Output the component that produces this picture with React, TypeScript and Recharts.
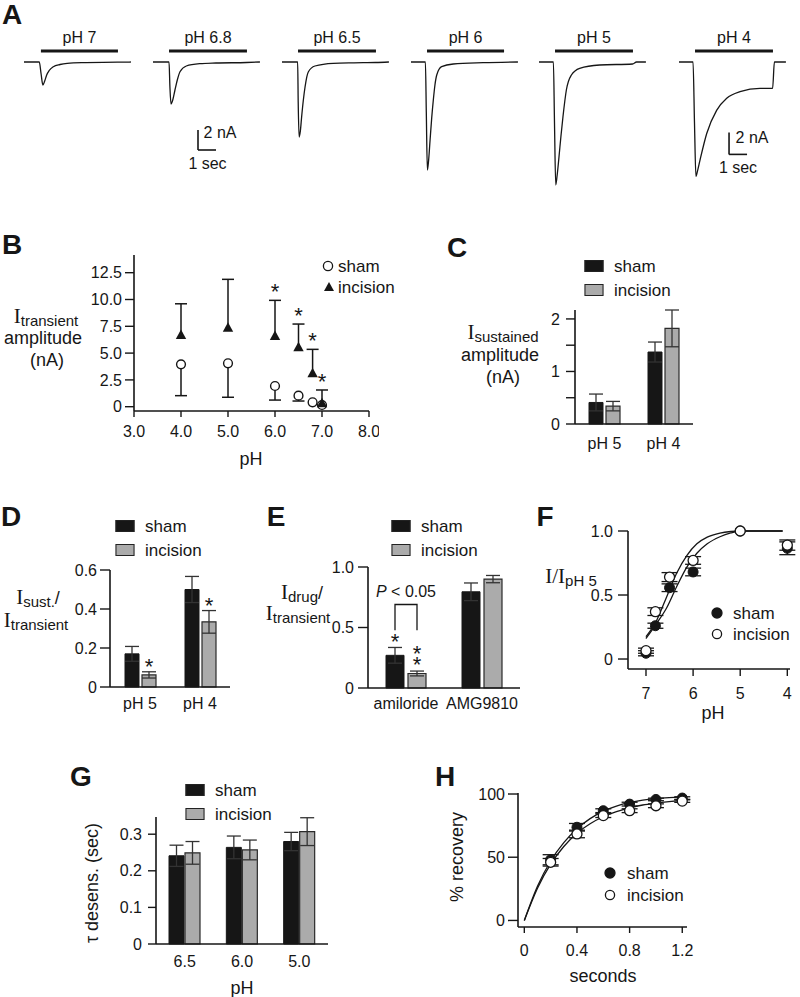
import React from 'react';
import {
  LineChart, Line, XAxis, YAxis, ReferenceLine, ScatterChart, Scatter, ErrorBar,
  BarChart, Bar, LabelList, ComposedChart,
} from 'recharts';

const FONT = '"Liberation Sans", Arial, Helvetica, sans-serif';
const SERIF = '"Liberation Serif", "Times New Roman", serif';
const INK = '#161616';
const GREY = '#ababab';
const TICK = { fontSize: 16, fill: INK, fontFamily: FONT };

/* ---------------- A: current traces (t in s, I in nA) ---------------- */
const traceLabels = ['pH 7', 'pH 6.8', 'pH 6.5', 'pH 6', 'pH 5', 'pH 4'];
const tracePH7 = [[0, 0], [0.85, 0], [0.95, -1.2], [1.05, -2.3], [1.15, -1.9], [1.26, -1.3], [1.4, -0.85], [1.63, -0.47], [2.0, -0.25], [2.4, -0.13], [3.2, -0.06], [5.2, -0.02], [5.94, 0]];
const tracePH68 = [[0, 0], [0.89, 0], [0.94, -2.5], [1.0, -4.2], [1.08, -3.9], [1.22, -2.8], [1.35, -1.8], [1.5, -0.97], [1.85, -0.4], [2.6, -0.17], [3.5, -0.1], [5.2, -0.05], [5.94, 0]];
const tracePH65 = [[0, 0], [0.87, 0], [0.9, -4], [0.95, -7.5], [1.02, -6.9], [1.09, -5.5], [1.18, -3.9], [1.28, -2.5], [1.46, -1.0], [1.83, -0.4], [2.85, -0.13], [4, -0.08], [5.2, -0.05], [5.94, 0]];
const tracePH6 = [[0, 0], [0.8, 0], [0.85, -5], [0.91, -10.8], [0.98, -9.8], [1.06, -7.8], [1.15, -5.6], [1.24, -3.8], [1.33, -2.3], [1.43, -1.3], [1.7, -0.47], [2.35, -0.2], [4.0, -0.07], [5.94, 0]];
const tracePH5 = [[0, 0], [0.8, 0], [0.86, -6], [0.93, -12.3], [1.01, -11.3], [1.11, -9.5], [1.22, -7.4], [1.33, -5.5], [1.52, -2.8], [1.8, -1.3], [2.26, -0.63], [3.37, -0.3], [5.2, -0.2], [5.42, 0], [5.94, 0]];
const tracePH4 = [[0, 0], [0.78, 0], [0.86, -5.5], [0.94, -10.4], [1.03, -9.9], [1.17, -8.9], [1.54, -6.5], [2.09, -4.4], [2.65, -3.3], [3.39, -2.7], [4.5, -2.4], [5.2, -2.4], [5.3, 0], [5.94, 0]];
const traceOnset = [0.94, 0.89, 0.89, 0.89, 0.89, 0.89];
const traceOffset = [5.22, 5.22, 5.22, 5.17, 5.22, 5.22];
const traceBarLevel = [1.1, 1.1, 1.1, 1.1, 1.1, 1.0];
const scaleBarNA = 2;
const scaleBarSec = 1;

/* ---------------- B ---------------- */
const bPH = [4, 5, 6, 6.5, 6.8, 7];
const bSham = [3.95, 4.05, 1.93, 1.03, 0.41, 0.16];
const bShamErr = [2.92, 3.17, 1.31, 0.5, 0, 0];
const bIncision = [6.69, 7.37, 6.6, 5.54, 3.11, 0.32];
const bIncisionErr = [2.91, 4.51, 3.32, 2.17, 2.24, 1.24];
const bSig = [false, false, true, true, true, true];
const bXTicks = [3, 4, 5, 6, 7, 8];
const bYTicks = [0, 2.5, 5, 7.5, 10, 12.5];

/* ---------------- C ---------------- */
const cCats = ['pH 5', 'pH 4'];
const cSham = [0.41, 1.37];
const cShamErr = [0.16, 0.19];
const cInc = [0.34, 1.82];
const cIncErr = [0.09, 0.35];
const cYTicks = [0, 0.5, 1, 1.5, 2];

/* ---------------- D ---------------- */
const dCats = ['pH 5', 'pH 4'];
const dSham = [0.17, 0.5];
const dShamErr = [0.038, 0.067];
const dInc = [0.062, 0.334];
const dIncErr = [0.016, 0.058];
const dSig = [true, true];
const dYTicks = [0, 0.2, 0.4, 0.6];

/* ---------------- E ---------------- */
const eCats = ['amiloride', 'AMG9810'];
const eSham = [0.27, 0.795];
const eShamErr = [0.065, 0.073];
const eInc = [0.12, 0.9];
const eIncErr = [0.02, 0.03];
const eBracket = [0.69, 0.478]; // bracket top, leg bottom
const eYTicks = [0, 0.5, 1];

/* ---------------- F ---------------- */
const fPH = [7, 6.8, 6.5, 6, 5, 4];
const fSham = [0.045, 0.26, 0.557, 0.68, 1.0, 0.865];
const fShamErr = [0.02, 0.02, 0.03, 0.03, 0, 0.05];
const fInc = [0.065, 0.37, 0.64, 0.77, 1.0, 0.89];
const fIncErr = [0.02, 0.03, 0.035, 0.03, 0, 0.04];
const fFitPH = [7.0, 6.77, 6.56, 6.35, 6.13, 5.92, 5.7, 5.43, 5.2, 5.0, 4.6, 4.1];
const fFitSham = [0.16, 0.28, 0.4, 0.565, 0.72, 0.826, 0.9, 0.955, 0.985, 1.0, 1.0, 1.0];
const fFitInc = [0.174, 0.305, 0.487, 0.67, 0.81, 0.9, 0.952, 0.984, 0.996, 1.0, 1.0, 1.0];
const fXTicks = [7, 6, 5, 4];
const fYTicks = [0, 0.5, 1];

/* ---------------- G ---------------- */
const gCats = ['6.5', '6.0', '5.0'];
const gSham = [0.241, 0.264, 0.28];
const gShamErr = [0.029, 0.031, 0.025];
const gInc = [0.249, 0.257, 0.307];
const gIncErr = [0.031, 0.027, 0.038];
const gYTicks = [0, 0.1, 0.2, 0.3];

/* ---------------- H ---------------- */
const hTime = [0.2, 0.4, 0.6, 0.8, 1.0, 1.2];
const hSham = [48, 73.7, 86.8, 92, 95.7, 96.8];
const hShamErr = [4, 3, 1.5, 1.5, 1, 1];
const hInc = [46, 68.4, 82.9, 86.8, 90.7, 94.4];
const hIncErr = [3, 3, 1.5, 1.5, 1.5, 1];
const hFitTime = [0, 0.1, 0.2, 0.3, 0.4, 0.5, 0.6, 0.7, 0.8, 0.9, 1.0, 1.1, 1.2];
const hFitSham = [0, 27, 47, 61.5, 72.5, 80.5, 86.5, 90.5, 93.3, 95.2, 96.4, 97.2, 97.8];
const hFitInc = [0, 25.5, 44.5, 58.5, 69, 76.5, 82, 86, 89, 91.3, 92.8, 94, 95];
const hXTicks = [0, 0.4, 0.8, 1.2];
const hYTicks = [0, 50, 100];

/* ---------------- helpers ---------------- */
type Rect = { x0: number; y0: number; x1: number; y1: number };
function frame(r: Rect, yW: number, xH: number, right = 10, top = 14) {
  return {
    style: { position: 'absolute' as const, left: r.x0 - yW, top: r.y0 - top },
    width: r.x1 - r.x0 + yW + right,
    height: r.y1 - r.y0 + xH + top,
    margin: { top, right, bottom: 0, left: 0 },
  };
}
const fmt1 = (v: number) => (v === 0 ? '0' : v.toFixed(1));
const axisLine = { strokeWidth: 1.6 };
const tickLine = { strokeWidth: 1.4 };

function T({ x, y, size = 18, children, rotate, bold, style }: any) {
  return (
    <div
      style={{
        position: 'absolute', left: x, top: y,
        transform: `translate(-50%,-50%)${rotate ? ` rotate(${rotate}deg)` : ''}`,
        fontSize: size, lineHeight: 1, whiteSpace: 'nowrap', fontFamily: FONT, color: INK,
        fontWeight: bold ? 700 : 400, ...style,
      }}
    >
      {children}
    </div>
  );
}
function ISub({ pre = 'I', sub, post = '' }: any) {
  return (
    <span>
      <span style={{ fontFamily: SERIF, fontSize: 21 }}>{pre}</span>
      <span style={{ fontSize: 15, position: 'relative', top: 3 }}>{sub}</span>
      {post}
    </span>
  );
}
const Swatch = ({ fill }: any) => (
  <div style={{ width: 19, height: 12, background: fill, border: '1px solid #222', boxSizing: 'border-box' }} />
);
const Dot = ({ filled }: any) => (
  <svg width={12} height={12} style={{ display: 'block' }}>
    <circle cx={6} cy={6} r={filled ? 5 : 4.6} fill={filled ? INK : '#fff'} stroke={INK} strokeWidth={1.3} />
  </svg>
);
const Tri = () => (
  <svg width={12} height={12} style={{ display: 'block' }}>
    <polygon points="6,1 11,10 1,10" fill={INK} />
  </svg>
);
function LegendRow({ mx, y, tx, marker, label }: any) {
  return (
    <>
      <div style={{ position: 'absolute', left: mx, top: y, transform: 'translate(-50%,-50%)' }}>{marker}</div>
      <div style={{ position: 'absolute', left: tx, top: y, transform: 'translateY(-50%)', fontSize: 17, lineHeight: 1, whiteSpace: 'nowrap', fontFamily: FONT, color: INK }}>
        {label}
      </div>
    </>
  );
}
const Star = ({ x, y }: { x: number; y: number }) => (
  <text x={x} y={y + 12} textAnchor="middle" fontSize={22} fontFamily={FONT} fill={INK}>*</text>
);

/* scatter shapes */
const OpenCircle = (p: any) => <circle cx={p.cx} cy={p.cy} r={4.4} fill="#fff" stroke={INK} strokeWidth={1.4} />;
const OpenCircleL = (p: any) => <circle cx={p.cx} cy={p.cy} r={5} fill="#fff" stroke={INK} strokeWidth={1.3} />;
const FilledCircle = (p: any) => <circle cx={p.cx} cy={p.cy} r={5} fill={INK} stroke={INK} strokeWidth={1} />;
const Triangle = (p: any) => (
  <polygon points={`${p.cx},${p.cy - 5.5} ${p.cx + 5.2},${p.cy + 4} ${p.cx - 5.2},${p.cy + 4}`} fill={INK} />
);
const Cap = (p: any) => <line x1={p.cx - 6} x2={p.cx + 6} y1={p.cy} y2={p.cy} stroke={INK} strokeWidth={1.5} />;
const StarShape = (p: any) => <Star x={p.cx} y={p.cy - 13} />;

/* ---------------- Panel A ---------------- */
const traceLeft = [24, 153, 282, 411, 539, 679];
const traceData = [tracePH7, tracePH68, tracePH65, tracePH6, tracePH5, tracePH4];
const traceDomain: [number, number][] = [[-13, 4.2], [-13, 4.2], [-13, 4.2], [-13, 4.2], [-13, 4.2], [-11.82, 3.82]];
const traceScaleAnchor: (number[] | null)[] = [null, [2.5, -6.8], null, null, null, [2.78, -6.4]];

function Trace({ k }: { k: number }) {
  const data = traceData[k].map(([t, i]) => ({ t, i }));
  const sc = traceScaleAnchor[k];
  return (
    <div style={{ position: 'absolute', left: traceLeft[k], top: 20 }}>
      <LineChart width={108} height={172} data={data} margin={{ top: 0, right: 0, bottom: 0, left: 0 }}>
        <XAxis dataKey="t" type="number" domain={[0, 6]} hide allowDataOverflow />
        <YAxis type="number" domain={traceDomain[k]} hide allowDataOverflow />
        <ReferenceLine
          segment={[{ x: traceOnset[k], y: traceBarLevel[k] }, { x: traceOffset[k], y: traceBarLevel[k] }]}
          stroke={INK} strokeWidth={3}
          label={{ value: traceLabels[k], position: 'top', offset: 8, fontSize: 16, fill: INK, fontFamily: FONT }}
        />
        {sc ? (
          <ReferenceLine segment={[{ x: sc[0], y: sc[1] }, { x: sc[0], y: sc[1] - scaleBarNA }]} stroke={INK} strokeWidth={1.6} />
        ) : null}
        {sc ? (
          <ReferenceLine segment={[{ x: sc[0], y: sc[1] - scaleBarNA }, { x: sc[0] + scaleBarSec, y: sc[1] - scaleBarNA }]} stroke={INK} strokeWidth={1.6} />
        ) : null}
        <Line dataKey="i" type="monotone" dot={false} stroke={INK} strokeWidth={1.3} isAnimationActive={false} />
      </LineChart>
    </div>
  );
}

/* ---------------- Panel B ---------------- */
function PanelB() {
  const f = frame({ x0: 134, y0: 255, x1: 369, y1: 411 }, 60, 40);
  const sham = bPH.map((x, i) => ({ x, y: bSham[i], e: [bShamErr[i], 0] }));
  const inc = bPH.map((x, i) => ({ x, y: bIncision[i], e: [0, bIncisionErr[i]] }));
  const shamCaps = bPH.map((x, i) => ({ x, y: bSham[i] - bShamErr[i], has: bShamErr[i] > 0 })).filter((d) => d.has);
  const incCapsAll = bPH.map((x, i) => ({ x, y: bIncision[i] + bIncisionErr[i], sig: bSig[i] }));
  const stars = incCapsAll.filter((d) => d.sig);
  return (
    <div style={f.style}>
      <ScatterChart width={f.width} height={f.height} margin={f.margin}>
        <XAxis dataKey="x" type="number" domain={[3, 8]} ticks={bXTicks} interval={0} tickFormatter={(v: number) => v.toFixed(1)}
          tick={TICK} tickSize={6} tickMargin={9} stroke={INK} axisLine={axisLine} tickLine={tickLine} height={40} />
        <YAxis dataKey="y" type="number" domain={[-0.4, 14.15]} ticks={bYTicks} interval={0} tickFormatter={fmt1}
          tick={TICK} tickSize={9} tickMargin={3} stroke={INK} axisLine={axisLine} tickLine={tickLine} width={60} />
        <Scatter data={sham} dataKey="y" shape={OpenCircle} isAnimationActive={false}>
          <ErrorBar dataKey="e" direction="y" width={0} stroke={INK} strokeWidth={1.5} isAnimationActive={false} />
        </Scatter>
        <Scatter data={shamCaps} dataKey="y" shape={Cap} isAnimationActive={false} />
        <Scatter data={inc} dataKey="y" shape={Triangle} isAnimationActive={false}>
          <ErrorBar dataKey="e" direction="y" width={0} stroke={INK} strokeWidth={1.5} isAnimationActive={false} />
        </Scatter>
        <Scatter data={incCapsAll} dataKey="y" shape={Cap} isAnimationActive={false} />
        <Scatter data={stars} dataKey="y" shape={StarShape} isAnimationActive={false} />
      </ScatterChart>
    </div>
  );
}

/* ---------------- Bar panels ---------------- */
function BarPanel({ rect, rows, yDomain, yTicks, yFmt, yTickSize, yTickMargin, xTickMargin, barSize, barGap, shamMarks, incMarks }: any) {
  const f = frame(rect, 50, 36, 8, 14);
  return (
    <div style={f.style}>
      <BarChart width={f.width} height={f.height} margin={f.margin} data={rows} barSize={barSize} barGap={barGap}>
        <XAxis dataKey="cat" type="category" interval={0} tickLine={false} tickSize={0} tickMargin={xTickMargin}
          tick={TICK} stroke={INK} axisLine={axisLine} height={36} />
        <YAxis type="number" domain={yDomain} ticks={yTicks} interval={0} tickFormatter={yFmt} tick={TICK}
          tickSize={yTickSize} tickMargin={yTickMargin} stroke={INK} axisLine={axisLine} tickLine={tickLine} width={50} />
        <Bar dataKey="sham" fill={INK} stroke={INK} strokeWidth={1} isAnimationActive={false}>
          <ErrorBar dataKey="shamErr" direction="y" width={7} stroke="#333" strokeWidth={1.3} isAnimationActive={false} />
          {shamMarks ? <LabelList dataKey="k" content={shamMarks} /> : null}
        </Bar>
        <Bar dataKey="inc" fill={GREY} stroke="#2a2a2a" strokeWidth={1.2} isAnimationActive={false}>
          <ErrorBar dataKey="incErr" direction="y" width={7} stroke="#333" strokeWidth={1.3} isAnimationActive={false} />
          {incMarks ? <LabelList dataKey="k" content={incMarks} /> : null}
        </Bar>
      </BarChart>
    </div>
  );
}
const mkRows = (cats: string[], s: number[], se: number[], inc: number[], ie: number[]) =>
  cats.map((cat, k) => ({ cat, k, sham: s[k], shamErr: se[k], inc: inc[k], incErr: ie[k] }));
function geom(p: any, value: number) {
  const vb = p.viewBox ?? p;
  const h = Math.abs(vb.height);
  const top = Math.min(vb.y, vb.y + vb.height);
  return { cx: vb.x + vb.width / 2, top, base: top + h, px: h / value };
}

const dIncMarks = (p: any) => {
  const i = Number(p.value);
  if (!dSig[i]) return null;
  const g = geom(p, dInc[i]);
  return <Star x={g.cx} y={g.top - dIncErr[i] * g.px - 10} />;
};
const E_BAR = 18;
const E_GAP = 4;
const eShamMarks = (p: any) => {
  const i = Number(p.value);
  if (i !== 0) return null;
  const g = geom(p, eSham[i]);
  return <Star x={g.cx} y={g.top - eShamErr[i] * g.px - 10} />;
};
const eIncMarks = (p: any) => {
  const i = Number(p.value);
  if (i !== 0) return null;
  const g = geom(p, eInc[i]);
  const errTop = g.top - eIncErr[i] * g.px;
  const left = g.cx - (E_BAR + E_GAP);
  const topY = g.base - eBracket[0] * g.px;
  const legY = g.base - eBracket[1] * g.px;
  return (
    <g>
      <Star x={g.cx} y={errTop - 11} />
      <Star x={g.cx} y={errTop - 22} />
      <polyline points={`${left},${legY} ${left},${topY} ${g.cx},${topY} ${g.cx},${legY}`} fill="none" stroke={INK} strokeWidth={1.3} />
      <text x={(left + g.cx) / 2} y={topY - 8} textAnchor="middle" fontSize={16} fontFamily={FONT} fill={INK}>
        <tspan fontStyle="italic">P</tspan> &lt; 0.05
      </text>
    </g>
  );
};

/* ---------------- Panel F ---------------- */
function PanelF() {
  const f = frame({ x0: 628, y0: 531, x1: 790, y1: 669 }, 50, 40, 8, 14);
  const sham = fPH.map((x, i) => ({ x, y: fSham[i], e: fShamErr[i] }));
  const inc = fPH.map((x, i) => ({ x, y: fInc[i], e: fIncErr[i] }));
  const fitS = fFitPH.map((x, i) => ({ x, y: fFitSham[i] }));
  const fitI = fFitPH.map((x, i) => ({ x, y: fFitInc[i] }));
  return (
    <div style={f.style}>
      <ComposedChart width={f.width} height={f.height} margin={f.margin}>
        <XAxis dataKey="x" type="number" domain={[3.943, 7.382]} reversed ticks={fXTicks} interval={0} tick={TICK}
          tickSize={7} tickMargin={12} stroke={INK} axisLine={axisLine} tickLine={tickLine} height={40} />
        <YAxis dataKey="y" type="number" domain={[-0.078, 1]} ticks={fYTicks} interval={0} tickFormatter={fmt1} tick={TICK}
          tickSize={10} tickMargin={5} stroke={INK} axisLine={axisLine} tickLine={tickLine} width={50} />
        <Line data={fitS} dataKey="y" type="monotone" dot={false} stroke={INK} strokeWidth={1.3} isAnimationActive={false} />
        <Line data={fitI} dataKey="y" type="monotone" dot={false} stroke={INK} strokeWidth={1.3} isAnimationActive={false} />
        <Scatter data={sham} dataKey="y" shape={FilledCircle} isAnimationActive={false}>
          <ErrorBar dataKey="e" direction="y" width={8} stroke={INK} strokeWidth={1.3} isAnimationActive={false} />
        </Scatter>
        <Scatter data={inc} dataKey="y" shape={OpenCircleL} isAnimationActive={false}>
          <ErrorBar dataKey="e" direction="y" width={8} stroke={INK} strokeWidth={1.3} isAnimationActive={false} />
        </Scatter>
      </ComposedChart>
    </div>
  );
}

/* ---------------- Panel H ---------------- */
function PanelH() {
  const f = frame({ x0: 518, y0: 793, x1: 687, y1: 927 }, 60, 40, 10, 14);
  const sham = hTime.map((x, i) => ({ x, y: hSham[i], e: hShamErr[i] }));
  const inc = hTime.map((x, i) => ({ x, y: hInc[i], e: hIncErr[i] }));
  const fitS = hFitTime.map((x, i) => ({ x, y: hFitSham[i] }));
  const fitI = hFitTime.map((x, i) => ({ x, y: hFitInc[i] }));
  return (
    <div style={f.style}>
      <ComposedChart width={f.width} height={f.height} margin={f.margin}>
        <XAxis dataKey="x" type="number" domain={[-0.048, 1.236]} ticks={hXTicks} interval={0} tickFormatter={fmt1} tick={TICK}
          tickSize={6} tickMargin={12} stroke={INK} axisLine={axisLine} tickLine={tickLine} height={40} />
        <YAxis dataKey="y" type="number" domain={[-5.2, 100.8]} ticks={hYTicks} interval={0} tick={TICK}
          tickSize={10} tickMargin={3} stroke={INK} axisLine={axisLine} tickLine={tickLine} width={60} />
        <Line data={fitS} dataKey="y" type="monotone" dot={false} stroke={INK} strokeWidth={1.3} isAnimationActive={false} />
        <Line data={fitI} dataKey="y" type="monotone" dot={false} stroke={INK} strokeWidth={1.3} isAnimationActive={false} />
        <Scatter data={sham} dataKey="y" shape={FilledCircle} isAnimationActive={false}>
          <ErrorBar dataKey="e" direction="y" width={8} stroke={INK} strokeWidth={1.3} isAnimationActive={false} />
        </Scatter>
        <Scatter data={inc} dataKey="y" shape={OpenCircleL} isAnimationActive={false}>
          <ErrorBar dataKey="e" direction="y" width={8} stroke={INK} strokeWidth={1.3} isAnimationActive={false} />
        </Scatter>
      </ComposedChart>
    </div>
  );
}

export default function App() {
  return (
    <div style={{ position: 'absolute', left: 0, top: 0, width: 800, height: 997, background: '#fff', overflow: 'hidden', fontFamily: FONT, color: INK }}>
      {/* panel letters */}
      <T x={12} y={15} size={28} bold>A</T>
      <T x={12} y={245} size={28} bold>B</T>
      <T x={457} y={248} size={28} bold>C</T>
      <T x={11} y={517} size={28} bold>D</T>
      <T x={276} y={517} size={28} bold>E</T>
      <T x={545} y={517} size={28} bold>F</T>
      <T x={81} y={777} size={28} bold>G</T>
      <T x={445} y={777} size={28} bold>H</T>

      {/* A */}
      {traceData.map((_, k) => <Trace key={k} k={k} />)}
      <T x={220} y={133} size={16}>2 nA</T>
      <T x={207.5} y={164} size={16}>1 sec</T>
      <T x={752} y={138} size={16}>2 nA</T>
      <T x={738} y={168} size={16}>1 sec</T>

      {/* B */}
      <PanelB />
      <T x={46} y={316}><ISub sub="transient" /></T>
      <T x={43} y={338}>amplitude</T>
      <T x={47} y={360}>(nA)</T>
      <T x={251} y={459}>pH</T>
      <LegendRow mx={328} y={266} tx={338} marker={<Dot />} label="sham" />
      <LegendRow mx={329} y={287} tx={338} marker={<Tri />} label="incision" />

      {/* C */}
      <BarPanel rect={{ x0: 575, y0: 310, x1: 693, y1: 424 }} rows={mkRows(cCats, cSham, cShamErr, cInc, cIncErr)}
        yDomain={[0, 2.17]} yTicks={cYTicks} yFmt={(v: number) => (Number.isInteger(v) ? String(v) : '')}
        yTickSize={9} yTickMargin={6} xTickMargin={14} barSize={14} barGap={3} />
      <T x={503} y={332}><ISub sub="sustained" /></T>
      <T x={500} y={355}>amplitude</T>
      <T x={503} y={377}>(nA)</T>
      <LegendRow mx={593.5} y={265.5} tx={614} marker={<Swatch fill={INK} />} label="sham" />
      <LegendRow mx={593.5} y={290} tx={614} marker={<Swatch fill={GREY} />} label="incision" />

      {/* D */}
      <BarPanel rect={{ x0: 110, y0: 570, x1: 230, y1: 687 }} rows={mkRows(dCats, dSham, dShamErr, dInc, dIncErr)}
        yDomain={[0, 0.6]} yTicks={dYTicks} yFmt={fmt1} yTickSize={10} yTickMargin={3} xTickMargin={11}
        barSize={14} barGap={3} incMarks={dIncMarks} />
      <T x={38} y={597}><ISub sub="sust." post="/" /></T>
      <T x={36} y={620}><ISub sub="transient" /></T>
      <LegendRow mx={124.5} y={526} tx={145} marker={<Swatch fill={INK} />} label="sham" />
      <LegendRow mx={124.5} y={550} tx={145} marker={<Swatch fill={GREY} />} label="incision" />

      {/* E */}
      <BarPanel rect={{ x0: 368, y0: 567, x1: 520, y1: 688 }} rows={mkRows(eCats, eSham, eShamErr, eInc, eIncErr)}
        yDomain={[0, 1]} yTicks={eYTicks} yFmt={fmt1} yTickSize={10} yTickMargin={4} xTickMargin={10}
        barSize={E_BAR} barGap={E_GAP} shamMarks={eShamMarks} incMarks={eIncMarks} />
      <T x={302} y={592}><ISub sub="drug" post="/" /></T>
      <T x={298} y={613}><ISub sub="transient" /></T>
      <LegendRow mx={400.5} y={526} tx={421} marker={<Swatch fill={INK} />} label="sham" />
      <LegendRow mx={400.5} y={550} tx={421} marker={<Swatch fill={GREY} />} label="incision" />

      {/* F */}
      <PanelF />
      <T x={571} y={576}><ISub pre="I/I" sub="pH 5" /></T>
      <T x={713} y={713}>pH</T>
      <LegendRow mx={717} y={613} tx={733} marker={<Dot filled />} label="sham" />
      <LegendRow mx={717} y={634} tx={733} marker={<Dot />} label="incision" />

      {/* G */}
      <BarPanel rect={{ x0: 156, y0: 817, x1: 328, y1: 944 }} rows={mkRows(gCats, gSham, gShamErr, gInc, gIncErr)}
        yDomain={[0, 0.347]} yTicks={gYTicks} yFmt={fmt1} yTickSize={8} yTickMargin={6} xTickMargin={12}
        barSize={15} barGap={1} />
      <T x={92} y={883} rotate={-90}>τ desens. (sec)</T>
      <T x={242} y={988}>pH</T>
      <LegendRow mx={194.5} y={790} tx={215} marker={<Swatch fill={INK} />} label="sham" />
      <LegendRow mx={194.5} y={814} tx={215} marker={<Swatch fill={GREY} />} label="incision" />

      {/* H */}
      <PanelH />
      <T x={457} y={857} rotate={-90}>% recovery</T>
      <T x={603} y={976}>seconds</T>
      <LegendRow mx={610} y={873} tx={627} marker={<Dot filled />} label="sham" />
      <LegendRow mx={610} y={895} tx={627} marker={<Dot />} label="incision" />
    </div>
  );
}
